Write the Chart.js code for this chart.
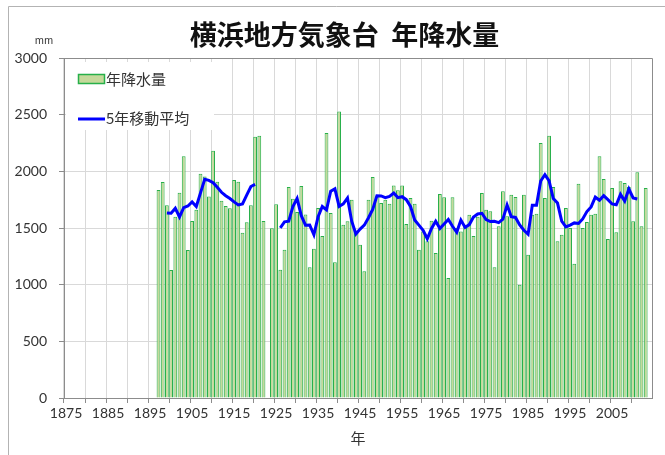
<!DOCTYPE html>
<html>
<head>
<meta charset="utf-8">
<script src="https://cdn.jsdelivr.net/npm/chart.js@4.4.1/dist/chart.umd.min.js"></script>
<style>
  html, body { margin: 0; padding: 0; background: #fff; }
  canvas { display: block; }
</style>
</head>
<body>
<canvas id="rainChart" width="665" height="455"></canvas>
<script>
// Yokohama annual precipitation (mm), 1897 - 2013, null = no data
const firstYear = 1897;
const rainfall = [
  1835, 1905, 1700,                                                // 1897-1899
  1130, 1600, 1812, 2132, 1306, 1562, 1660, 1978, 1955, 1778,      // 1900s
  2182, 1909, 1741, 1694, 1674, 1924, 1909, 1459, 1550, 1700,      // 1910s
  2306, 2315, 1562, null, 1497, 1710, 1132, 1309, 1862, 1759,      // 1920s
  1641, 1870, 1620, 1153, 1318, 1676, 1430, 2338, 1632, 1197,      // 1930s
  2529, 1529, 1559, 1750, 1456, 1353, 1118, 1750, 1950, 1779,      // 1940s
  1720, 1750, 1715, 1876, 1832, 1874, 1535, 1765, 1715, 1309,      // 1950s
  1470, 1382, 1565, 1279, 1800, 1771, 1059, 1771, 1500, 1470,      // 1960s
  1529, 1618, 1430, 1600, 1809, 1662, 1647, 1153, 1515, 1824,      // 1970s
  1603, 1794, 1774, 1000, 1794, 1265, 1618, 1626, 2250, 1765,      // 1980s
  2315, 1862, 1382, 1441, 1676, 1500, 1185, 1891, 1500, 1553,      // 1990s
  1618, 1626, 2132, 1932, 1403, 1853, 1462, 1912, 1897, 1862,      // 2000s
  1559, 1991, 1515, 1853                                           // 2010-2013
];

// 5-year moving average, same years as rainfall
const movingAvg = [
  null, null, 1633,
  1630, 1674, 1598, 1680, 1694, 1730, 1690, 1810, 1930, 1920,
  1900, 1860, 1815, 1785, 1760, 1730, 1703, 1712, 1790, 1866,
  1885, null, null, null, null, null, 1502, 1554, 1560, 1690,
  1760, 1609, 1525, 1527, 1440, 1600, 1690, 1660, 1824, 1845,
  1690, 1713, 1765, 1560, 1447, 1490, 1525, 1590, 1663, 1785,
  1783, 1768, 1779, 1808, 1768, 1776, 1750, 1690, 1570, 1525,
  1480, 1405, 1496, 1560, 1495, 1536, 1575, 1515, 1462, 1570,
  1505, 1530, 1597, 1624, 1630, 1574, 1557, 1560, 1548, 1578,
  1702, 1600, 1593, 1527, 1480, 1445, 1700, 1700, 1915, 1970,
  1915, 1760, 1720, 1560, 1510, 1525, 1545, 1540, 1580, 1645,
  1686, 1772, 1745, 1785, 1750, 1712, 1705, 1797, 1738, 1844,
  1765, 1756, null, null
];

const axisStart = 1875;
const axisEnd = 2014;
const xLabelYears = [1875, 1885, 1895, 1905, 1915, 1925, 1935, 1945, 1955, 1965, 1975, 1985, 1995, 2005];
const chartTitle = "横浜地方気象台  年降水量";

const labels = [];
for (let y = axisStart; y <= axisEnd; y++) labels.push(String(y));

function padSeries(arr) {
  return labels.map((l) => {
    const i = Number(l) - firstYear;
    return i >= 0 && i < arr.length ? arr[i] : null;
  });
}

const gridColor = "#d9d9d9";
const axisColor = "#8c8c8c";
const textColor = "#333333";

// outer frame, title, plot border, inline legend and unit label
const frameAndLegend = {
  id: "frameAndLegend",
  beforeDraw(chart) {
    const { ctx, width, height } = chart;
    ctx.save();
    ctx.fillStyle = "#ffffff";
    ctx.fillRect(0, 0, width, height);
    ctx.strokeStyle = "#b3b3b3";
    ctx.lineWidth = 1;
    ctx.beginPath();
    ctx.moveTo(8.5, height);
    ctx.lineTo(8.5, 6.5);
    ctx.lineTo(width, 6.5);
    ctx.stroke();
    ctx.restore();
  },
  afterDraw(chart) {
    const { ctx, chartArea: a } = chart;
    const line = chart.data.datasets[0];
    const bars = chart.data.datasets[1];
    ctx.save();

    // title
    ctx.fillStyle = "#111111";
    ctx.font = 'bold 27px "Noto Sans CJK JP", sans-serif';
    ctx.textAlign = "center";
    ctx.textBaseline = "middle";
    ctx.fillText(chartTitle, 344.5, 35);

    // top and right edge of the plot area
    ctx.strokeStyle = axisColor;
    ctx.lineWidth = 1;
    ctx.beginPath();
    ctx.moveTo(a.left, Math.round(a.top) + 0.5);
    ctx.lineTo(Math.round(a.right) + 0.5, Math.round(a.top) + 0.5);
    ctx.lineTo(Math.round(a.right) + 0.5, a.bottom);
    ctx.stroke();

    // legend box
    const lx = a.left + 2;
    const ly = a.top + 4;
    ctx.fillStyle = "#ffffff";
    ctx.fillRect(lx, ly, 148, 68);

    ctx.fillStyle = bars.backgroundColor;
    ctx.fillRect(lx + 12, ly + 12, 27, 10);
    ctx.strokeStyle = bars.borderColor;
    ctx.lineWidth = 1.5;
    ctx.strokeRect(lx + 12.5, ly + 12.5, 26, 9);

    ctx.strokeStyle = line.borderColor;
    ctx.lineWidth = 3;
    ctx.beginPath();
    ctx.moveTo(lx + 12, ly + 57);
    ctx.lineTo(lx + 39, ly + 57);
    ctx.stroke();

    ctx.fillStyle = textColor;
    ctx.font = '15px "Noto Sans CJK JP", sans-serif';
    ctx.textAlign = "left";
    ctx.fillText(bars.label, lx + 40, ly + 17);
    ctx.fillText(line.label, lx + 40, ly + 56);

    ctx.font = '10px "Noto Sans CJK JP", sans-serif';
    ctx.textAlign = "center";
    ctx.fillText("mm", 44, 40);
    ctx.restore();
  },
};

const ctx = document.getElementById("rainChart").getContext("2d");
const rainChart = new Chart(ctx, {
  type: "bar",
  data: {
    labels: labels,
    datasets: [
      {
        type: "line",
        label: "5年移動平均",
        data: padSeries(movingAvg),
        borderColor: "#0000ff",
        borderWidth: 3,
        pointRadius: 0,
        tension: 0,
        spanGaps: false,
        order: 1,
      },
      {
        type: "bar",
        label: "年降水量",
        data: padSeries(rainfall),
        backgroundColor: "#c5d99b",
        borderColor: "#27b04a",
        borderWidth: 1,
        categoryPercentage: 1,
        barPercentage: 0.9,
        order: 2,
      },
    ],
  },
  options: {
    responsive: false,
    devicePixelRatio: 1,
    animation: false,
    layout: {
      padding: { left: 8, right: 13, top: 58, bottom: 0 },
    },
    plugins: {
      legend: { display: false },
      tooltip: { enabled: false },
    },
    scales: {
      x: {
        offset: true,
        grid: {
          offset: true,
          color: (c) => (c.index % 5 === 0 ? gridColor : "transparent"),
          tickColor: (c) => (c.index % 5 === 0 ? axisColor : "transparent"),
          tickLength: 5,
        },
        border: { display: true, color: axisColor },
        ticks: {
          autoSkip: false,
          maxRotation: 0,
          minRotation: 0,
          padding: 2,
          color: textColor,
          font: { family: "Lato, sans-serif", size: 14 },
          callback: function (value) {
            const yr = Number(this.getLabelForValue(value));
            return xLabelYears.includes(yr) ? String(yr) : "";
          },
        },
        title: {
          display: true,
          text: "年",
          color: textColor,
          font: { family: '"Noto Sans CJK JP", sans-serif', size: 15 },
          padding: { top: 0, bottom: 8 },
        },
        afterFit: (scale) => {
          scale.height = 57;
        },
      },
      y: {
        min: 0,
        max: 3000,
        grid: {
          color: gridColor,
          tickColor: axisColor,
          tickLength: 5,
        },
        border: { display: true, color: axisColor },
        ticks: {
          stepSize: 500,
          padding: 12,
          color: textColor,
          font: { family: "Lato, sans-serif", size: 14 },
          callback: (value) => String(value),
        },
        afterFit: (scale) => {
          scale.width = 56;
        },
      },
    },
  },
  plugins: [frameAndLegend],
});
</script>
</body>
</html>
